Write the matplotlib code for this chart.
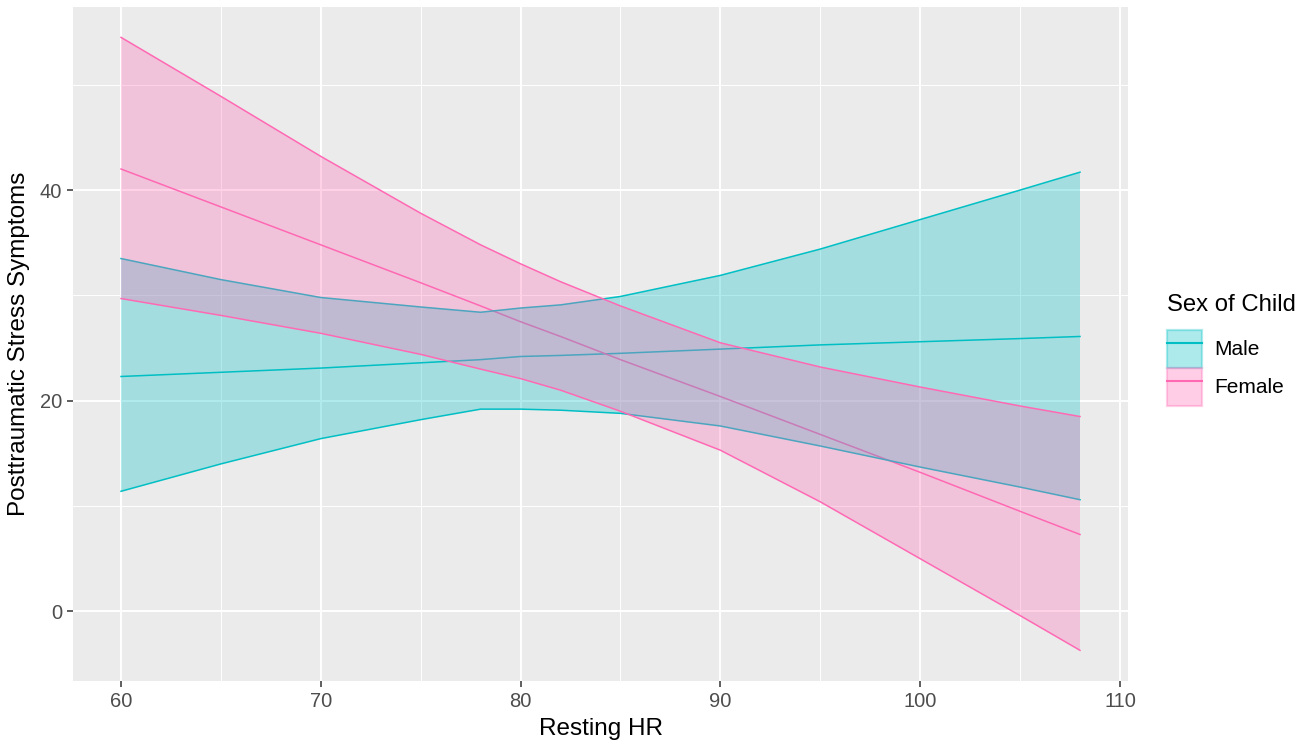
import numpy as np
import matplotlib
matplotlib.use("Agg")
import matplotlib.pyplot as plt
from matplotlib.patches import Patch
from matplotlib.lines import Line2D
from matplotlib.ticker import MultipleLocator

plt.rcParams['font.family'] = ['Liberation Sans', 'DejaVu Sans']

# values
resting_hr = [60, 65, 70, 75, 78, 80, 82, 85, 90, 95, 100, 105, 108]

male_fit = [22.3, 22.7, 23.1, 23.6, 23.9, 24.2, 24.3, 24.5, 24.9, 25.3, 25.6, 25.9, 26.1]
male_lo = [11.4, 14.0, 16.4, 18.2, 19.2, 19.2, 19.1, 18.8, 17.6, 15.7, 13.7, 11.8, 10.6]
male_hi = [33.5, 31.5, 29.8, 28.9, 28.4, 28.8, 29.1, 29.9, 31.9, 34.4, 37.2, 40.0, 41.7]

female_fit = [42.0, 38.4, 34.8, 31.2, 29.0, 27.5, 26.1, 23.9, 20.4, 16.8, 13.2, 9.5, 7.3]
female_lo = [29.7, 28.1, 26.4, 24.4, 23.0, 22.1, 21.0, 19.0, 15.3, 10.4, 5.0, -0.4, -3.7]
female_hi = [54.5, 48.9, 43.2, 37.8, 34.8, 33.0, 31.3, 29.0, 25.5, 23.2, 21.3, 19.5, 18.5]

groups = ["Male", "Female"]
colors = {"Male": "#00BFC4", "Female": "#FF69B4"}
series = {
    "Male": (male_fit, male_lo, male_hi),
    "Female": (female_fit, female_lo, female_hi),
}

fig = plt.figure(figsize=(13.07, 7.47), dpi=100)
ax = fig.add_axes([0.0559, 0.0884, 0.8071, 0.9026])
ax.set_facecolor("#EBEBEB")

for i, g in enumerate(groups):
    fit, lo, hi = series[g]
    c = colors[g]
    ax.plot(resting_hr, fit, color=c, lw=1.1, zorder=2)
    ax.fill_between(resting_hr, lo, hi, facecolor=c, alpha=0.3, lw=0, zorder=3 + i)
    ax.plot(resting_hr, lo, color=c, lw=1.1, zorder=3 + i)
    ax.plot(resting_hr, hi, color=c, lw=1.1, zorder=3 + i)

# ggplot style expansion (5%)
xmin, xmax = min(resting_hr), max(resting_hr)
ymin = min(male_lo + female_lo)
ymax = max(male_hi + female_hi)
ax.set_xlim(xmin - 0.05 * (xmax - xmin), xmax + 0.05 * (xmax - xmin))
ax.set_ylim(ymin - 0.05 * (ymax - ymin), ymax + 0.05 * (ymax - ymin))

ax.xaxis.set_major_locator(MultipleLocator(10))
ax.xaxis.set_minor_locator(MultipleLocator(5))
ax.yaxis.set_major_locator(MultipleLocator(20))
ax.yaxis.set_minor_locator(MultipleLocator(10))
ax.set_axisbelow(True)
ax.grid(which="major", color="white", lw=1.4, zorder=0)
ax.grid(which="minor", color="white", lw=0.7, zorder=0)
for s in ax.spines.values():
    s.set_visible(False)
ax.tick_params(which="major", length=4, width=1.1, color="#333333",
               labelcolor="#4D4D4D", labelsize=14.5, pad=4)
ax.tick_params(which="minor", length=0)

ax.set_xlabel("Resting HR", fontsize=17.5, color="black", labelpad=5)
ax.set_ylabel("Posttraumatic Stress Symptoms", fontsize=17.5, color="black", labelpad=7)

handles = [(Patch(facecolor=colors[g], alpha=0.32, edgecolor=colors[g], lw=1.6),
            Line2D([], [], color=colors[g], lw=1.5)) for g in groups]
leg = fig.legend(handles, groups, loc="upper left",
                 bbox_to_anchor=(1167 / 1307, 1 - 294 / 747),
                 frameon=False, fontsize=15, title="Sex of Child",
                 title_fontsize=17.2, handlelength=1.68, handleheight=2.43,
                 labelspacing=0.0, handletextpad=0.6, borderpad=0,
                 borderaxespad=0, alignment="left")
leg._legend_box.sep = 10

fig.savefig("out.png", dpi=100)
